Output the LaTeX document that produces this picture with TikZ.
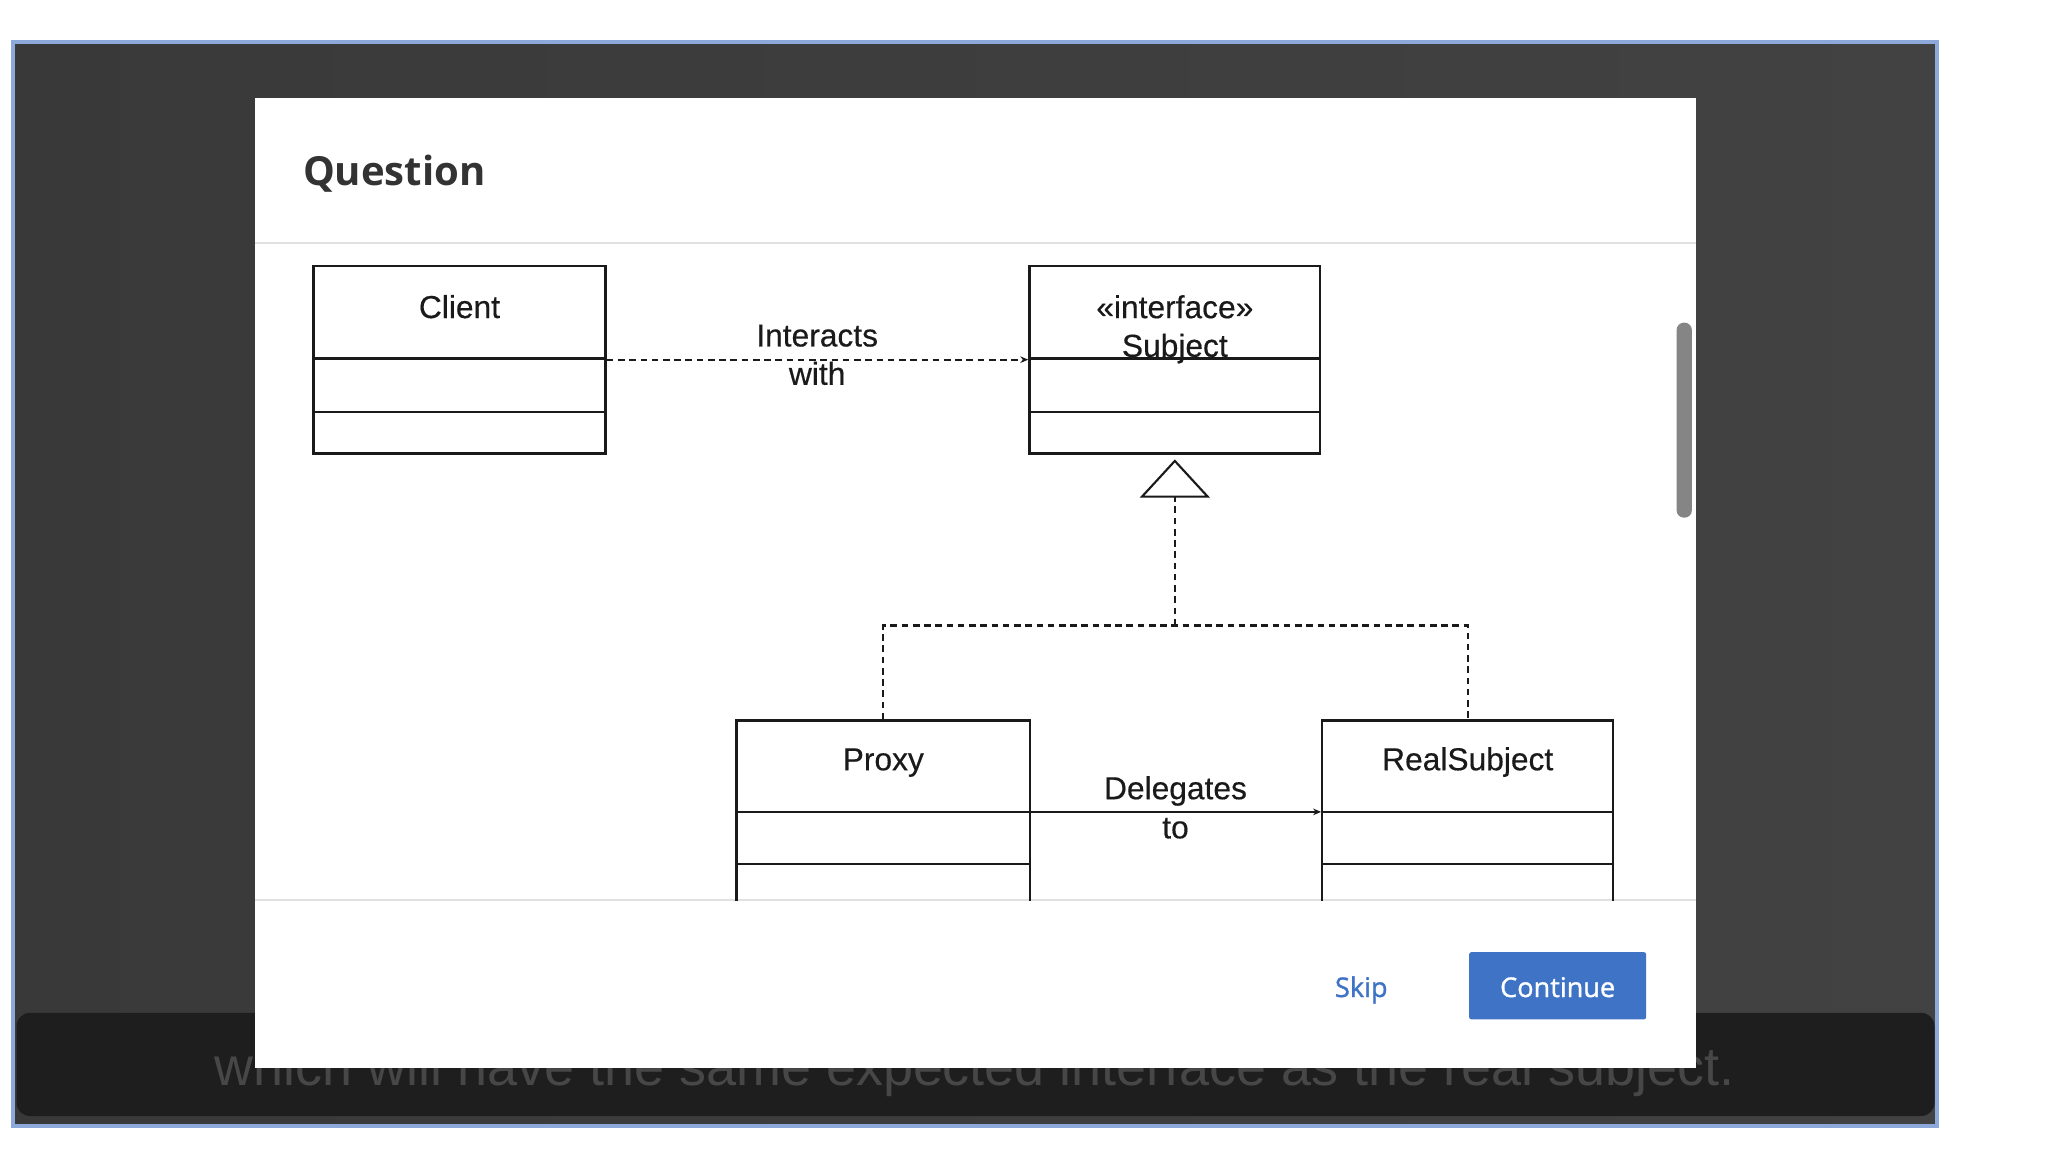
\documentclass[tikz,border=0pt]{standalone}
\usepackage{fontspec}
\setmainfont{Liberation Sans}
\newfontfamily\osans{Open Sans}
\newfontfamily\osanssemi{Open Sans}[FakeBold=1.2]
\newfontfamily\diagfont{Liberation Sans}[FakeBold=0.4]
\usetikzlibrary{arrows.meta,calc}
\definecolor{bgA}{HTML}{393939}
\definecolor{bgB}{HTML}{424242}
\definecolor{framecol}{HTML}{8DA9DB}
\definecolor{capbar}{HTML}{1E1E1E}
\definecolor{captxt}{HTML}{474747}
\definecolor{sepgray}{HTML}{E0E0E0}
\definecolor{scrollgray}{HTML}{858585}
\definecolor{btnblue}{HTML}{3F73C6}
\definecolor{titlegray}{HTML}{333333}
\definecolor{inkc}{HTML}{1A1A1A}
\begin{document}
\begin{tikzpicture}[x=1pt,y=-1pt,
  umlbox/.style={draw=inkc, line width=1.8pt, rectangle, inner sep=0pt},
  divider/.style={draw=inkc, line width=1.8pt},
  lbl/.style={font=\diagfont\fontsize{24}{24}\selectfont, text=inkc, inner sep=0pt, anchor=base},
  dsh/.style={draw=inkc, line width=1.7pt, dash pattern=on 5pt off 3.5pt},
  solidline/.style={draw=inkc, line width=1.7pt},
  smalltip/.style={-{Stealth[length=6pt,width=5pt]}},
  sep/.style={draw=sepgray, line width=1.5pt}
  ]
\useasboundingbox (0,0) rectangle (1567,879);
\fill[white] (0,0) rectangle (1567,879);
% outer frame
\shade[left color=bgA, right color=bgB] (9.8,31.8) rectangle (1465.2,851.5);
\draw[framecol, line width=3pt] (9.8,31.8) rectangle (1465.2,851.5);
% caption bar and caption text
\fill[capbar, rounded corners=10pt] (12.5,766) rectangle (1463,844);
\node[anchor=base west, inner sep=0pt, text=captxt, font=\fontsize{40.8}{40.8}\selectfont] (caption) at (162,821) {which will have the same expected interface as the real subject.};
% dialog
\fill[white] (193,74) rectangle (1282.5,808);
\node[anchor=base west, inner sep=0pt, text=titlegray, font=\osans\bfseries\fontsize{30.3}{30.3}\selectfont] (title) at (229,140) {Question};
\draw[sep] (193,184) -- (1282.5,184);
\draw[sep] (193,681) -- (1282.5,681);
% scrollbar
\fill[scrollgray, rounded corners=5.5pt] (1268,244) rectangle (1279.5,391.5);
% buttons
\node[anchor=base, inner sep=0pt, text=btnblue, font=\osanssemi\fontsize{20.5}{20.5}\selectfont] (skip) at (1029.5,754) {Skip};
\node[fill=btnblue, rounded corners=2pt, minimum width=134pt, minimum height=51pt, inner sep=0pt] (contbtn) at (1178,745.5) {};
\node[anchor=base, inner sep=0pt, text=white, font=\osanssemi\fontsize{20.5}{20.5}\selectfont] (conttxt) at (1178,754) {Continue};
% ---- UML diagram ----
\node[umlbox, minimum width=221pt, minimum height=142pt] (client) at (347.5,272) {};
\draw[divider] ($(client.north west)+(0,71)$) -- ($(client.north east)+(0,71)$);
\draw[divider] ($(client.north west)+(0,111.5)$) -- ($(client.north east)+(0,111.5)$);
\node[lbl] (clienttxt) at (347.5,240.5) {Client};

\node[umlbox, minimum width=220pt, minimum height=142pt] (subject) at (888.5,272) {};
\draw[divider] ($(subject.north west)+(0,71)$) -- ($(subject.north east)+(0,71)$);
\draw[divider] ($(subject.north west)+(0,111.5)$) -- ($(subject.north east)+(0,111.5)$);
\node[lbl] (stereo) at (888.5,240.6) {«interface»};
\node[lbl] (subjtxt) at (888.5,269.8) {Subject};

\draw[dsh, smalltip] (client.east) -- (subject.west);
\node[lbl] (interacts) at (618,262) {Interacts};
\node[lbl] (with) at (618,291) {with};

\coordinate (junc) at (888.5,473);
\begin{scope}
\clip (193,184) rectangle (1282.5,681);
\node[umlbox, minimum width=222pt, minimum height=138pt] (proxy) at (668,614) {};
\draw[divider] ($(proxy.north west)+(0,109.5)$) -- ($(proxy.north east)+(0,109.5)$);
\draw[divider] (proxy.west) -- (proxy.east);
\node[umlbox, minimum width=220pt, minimum height=138pt] (real) at (1110,614) {};
\draw[divider] ($(real.north west)+(0,109.5)$) -- ($(real.north east)+(0,109.5)$);
\draw[divider] (real.west) -- (real.east);
\end{scope}
\node[lbl] (proxytxt) at (668,582.5) {Proxy};
\node[lbl] (realtxt) at (1110,582.5) {RealSubject};

\draw[solidline, smalltip] (proxy.east) -- (real.west);
\node[lbl] (delegates) at (889,604.4) {Delegates};
\node[lbl] (to) at (889,634) {to};

\draw[dsh] (proxy.north) |- (junc) -| (real.north);
\draw[dsh, -{Triangle[open, length=29pt, width=53pt, line width=1.6pt]}, shorten >=3.5pt] (junc) -- (subject.south);
\end{tikzpicture}
\end{document}
